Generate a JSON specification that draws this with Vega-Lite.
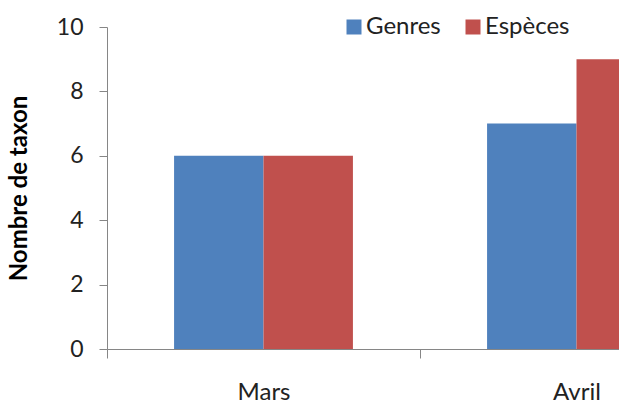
{
  "$schema": "https://vega.github.io/schema/vega-lite/v6.json",
  "autosize": {"type": "none"},
  "padding": {"left": 107, "top": 27, "right": 0, "bottom": 52},
  "width": 626,
  "height": 322,
  "background": "white",
  "data": {
    "values": [
      {"mois": "Mars", "type": "Genres", "nombre": 6},
      {"mois": "Mars", "type": "Espèces", "nombre": 6},
      {"mois": "Avril", "type": "Genres", "nombre": 7},
      {"mois": "Avril", "type": "Espèces", "nombre": 9}
    ]
  },
  "config": {
    "font": "Lato",
    "view": {"stroke": null}
  },
  "mark": {"type": "bar"},
  "encoding": {
    "x": {
      "field": "mois",
      "type": "nominal",
      "sort": ["Mars", "Avril"],
      "scale": {"paddingInner": 0, "paddingOuter": 0},
      "axis": {
        "title": null,
        "labelAngle": 0,
        "labelFontSize": 24,
        "labelColor": "#222222",
        "labelPadding": 22,
        "tickBand": "extent",
        "tickSize": 9,
        "tickColor": "#868686",
        "domainColor": "#868686",
        "grid": false
      }
    },
    "xOffset": {
      "field": "type",
      "sort": ["Genres", "Espèces"],
      "scale": {"paddingInner": 0, "paddingOuter": 0.75}
    },
    "y": {
      "field": "nombre",
      "type": "quantitative",
      "scale": {"domain": [0, 10], "nice": false},
      "axis": {
        "title": "Nombre de taxon",
        "titleFontSize": 24,
        "titleFontWeight": "bold",
        "titleColor": "#000000",
        "titlePadding": 25,
        "values": [0, 2, 4, 6, 8, 10],
        "labelFontSize": 23,
        "labelColor": "#222222",
        "labelPadding": 16,
        "tickSize": 8,
        "tickColor": "#868686",
        "domainColor": "#868686",
        "grid": false
      }
    },
    "color": {
      "field": "type",
      "type": "nominal",
      "sort": ["Genres", "Espèces"],
      "scale": {"domain": ["Genres", "Espèces"], "range": ["#4F81BD", "#C0504D"]},
      "legend": {
        "title": null,
        "orient": "none",
        "direction": "horizontal",
        "legendX": 235,
        "legendY": -12,
        "symbolType": "square",
        "symbolSize": 225,
        "symbolStrokeWidth": 0,
        "symbolOpacity": 1,
        "labelFontSize": 24,
        "labelColor": "#222222",
        "labelOffset": 0,
        "columnPadding": 20
      }
    }
  }
}
